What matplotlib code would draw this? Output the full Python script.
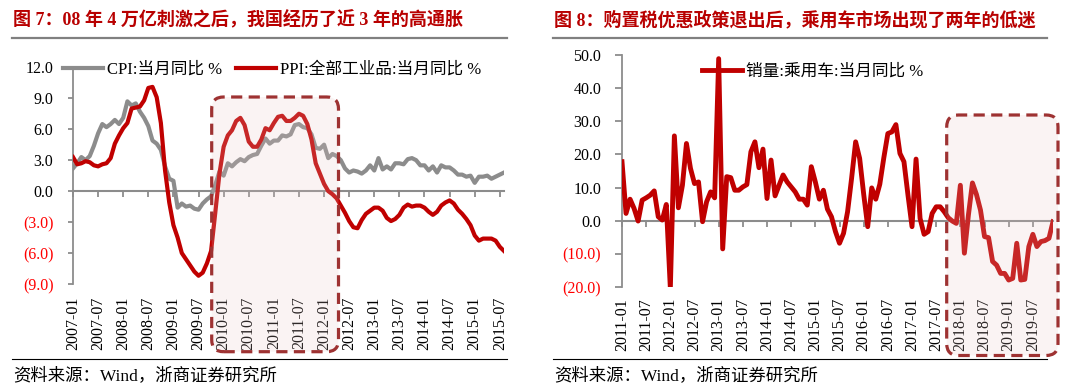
import matplotlib
matplotlib.use("Agg")
import matplotlib.pyplot as plt
import pandas as pd
from matplotlib.patches import FancyBboxPatch
from matplotlib.lines import Line2D

plt.rcParams['font.family'] = ['Liberation Serif', 'Noto Sans CJK SC', 'DejaVu Sans']

W, H = 1080, 392
RED = '#C00000'
GREY = '#8C8C8C'
AXIS = '#8C8C8C'
NEG = '#FF0000'
TITLE = '#B80000'
BOX_EDGE = '#9E3232'

# Left chart: CPI / PPI yoy %, monthly 2007-01 .. 2015-08
months_left = pd.period_range('2007-01', '2015-08', freq='M').strftime('%Y-%m').tolist()
cpi = [2.2, 2.7, 3.3, 3.0, 3.4, 4.4, 5.6, 6.5, 6.2, 6.5, 6.9, 6.5,
       7.1, 8.7, 8.3, 8.5, 7.7, 7.1, 6.3, 4.9, 4.6, 4.0, 2.4, 1.2,
       1.0, -1.6, -1.2, -1.5, -1.4, -1.7, -1.8, -1.2, -0.8, -0.5, 0.6, 1.9,
       1.5, 2.7, 2.4, 2.8, 3.1, 2.9, 3.3, 3.5, 3.6, 4.4, 5.1, 4.6,
       4.9, 4.9, 5.4, 5.3, 5.5, 6.4, 6.5, 6.2, 6.1, 5.5, 4.2, 4.1,
       4.5, 3.2, 3.6, 3.4, 3.0, 2.2, 1.8, 2.0, 1.9, 1.7, 2.0, 2.5,
       2.0, 3.2, 2.1, 2.4, 2.1, 2.7, 2.7, 2.6, 3.1, 3.2, 3.0, 2.5,
       2.5, 2.0, 2.4, 1.8, 2.5, 2.3, 2.3, 2.0, 1.6, 1.6, 1.4, 1.5,
       0.8, 1.4, 1.4, 1.5, 1.2, 1.4, 1.6, 1.8]
ppi = [3.3, 2.6, 2.7, 2.9, 2.8, 2.5, 2.4, 2.6, 2.7, 3.2, 4.6, 5.4,
       6.1, 6.6, 8.0, 8.1, 8.2, 8.8, 10.0, 10.1, 9.1, 6.6, 2.0, -1.1,
       -3.3, -4.5, -6.0, -6.6, -7.2, -7.8, -8.2, -7.9, -7.0, -5.8, -2.1, 1.7,
       4.3, 5.4, 5.9, 6.8, 7.1, 6.4, 4.8, 4.3, 4.3, 5.0, 6.1, 5.9,
       6.6, 7.2, 7.3, 6.8, 6.8, 7.1, 7.5, 7.3, 6.5, 5.0, 2.7, 1.7,
       0.7, 0.0, -0.3, -0.7, -1.4, -2.1, -2.9, -3.5, -3.6, -2.8, -2.2, -1.9,
       -1.6, -1.6, -1.9, -2.6, -2.9, -2.7, -2.3, -1.6, -1.3, -1.5, -1.4, -1.4,
       -1.6, -2.0, -2.3, -2.0, -1.4, -1.1, -0.9, -1.2, -1.8, -2.2, -2.7, -3.3,
       -4.3, -4.8, -4.6, -4.6, -4.6, -4.8, -5.4, -5.8]

# Right chart: passenger car sales yoy %, monthly 2011-01 .. 2019-12
months_right = pd.period_range('2011-01', '2019-12', freq='M').strftime('%Y-%m').tolist()
car_sales = [17.8, 2.2, 6.5, 3.7, -0.1, 6.2, 6.9, 7.7, 9.0, 1.2, 0.2, 4.9,
             -20.4, 25.6, 3.9, 10.7, 23.3, 15.8, 11.2, 11.7, -0.3, 5.7, 8.7, 6.9,
             48.9, -8.5, 13.3, 13.0, 9.2, 9.2, 10.2, 10.9, 20.8, 23.8, 16.0, 21.6,
             6.7, 18.3, 7.5, 10.7, 13.8, 11.7, 10.2, 8.7, 6.5, 6.5, 4.7, 16.3,
             11.7, 6.5, 9.2, 3.5, 1.2, -3.3, -6.8, -3.8, 2.7, 12.8, 23.8, 18.8,
             8.0, -1.8, 9.9, 6.5, 11.0, 19.0, 26.3, 26.8, 29.0, 20.3, 17.8, 7.7,
             -1.8, 18.6, 0.7, -4.1, -3.3, 2.2, 4.2, 4.2, 2.7, 0.9, -0.1, -0.8,
             10.7, -9.8, 1.7, 11.4, 7.9, 3.2, -4.8, -5.1, -12.3, -13.4, -15.9, -15.9,
             -17.9, -17.4, -6.8, -17.9, -17.7, -7.8, -4.1, -7.8, -6.3, -6.0, -5.3, -0.3]

yticks_left = [-9, -6, -3, 0, 3, 6, 9, 12]
yticks_right = [-20, -10, 0, 10, 20, 30, 40, 50]

title_left = '图 7：08 年 4 万亿刺激之后，我国经历了近 3 年的高通胀'
title_right = '图 8：购置税优惠政策退出后，乘用车市场出现了两年的低迷'
source = '资料来源：Wind，浙商证券研究所'


def fmt(v):
    return '(%.1f)' % abs(v) if v < 0 else '%.1f' % v


def style_axis(ax, months, yticks, ylen, ypad, xpad):
    n = len(months)
    ax.set_xlim(0, n - 1)
    ax.set_ylim(yticks[0], yticks[-1])
    for s in ['top', 'right', 'bottom']:
        ax.spines[s].set_visible(False)
    ax.spines['left'].set_color(AXIS)
    ax.spines['left'].set_linewidth(1.3)
    ax.set_yticks(yticks)
    ax.set_yticklabels([fmt(v) for v in yticks], fontsize=11.5)
    for lab, v in zip(ax.get_yticklabels(), yticks):
        lab.set_color(NEG if v < 0 else 'black')
    ax.tick_params(axis='y', direction='out', length=ylen, width=1.3, color=AXIS, pad=ypad)
    pos = list(range(0, n, 6))
    ax.set_xticks(pos)
    ax.set_xticklabels([months[i] for i in pos], rotation=90, fontsize=11.5)
    ax.tick_params(axis='x', length=0, pad=xpad)
    # zero line with tick marks
    zero = ax.secondary_xaxis(0, functions=(lambda x: x, lambda x: x), transform=ax.transData)
    zero.set_xticks(pos)
    zero.tick_params(axis='x', direction='out', length=4, width=1.3, color=AXIS,
                     labelbottom=False, labeltop=False)
    for s in zero.spines.values():
        s.set_color(AXIS)
        s.set_linewidth(1.5)
    ax.patch.set_alpha(0)


def highlight(fig, left, right, top, bottom):
    x0, x1 = left / W, right / W
    y0, y1 = 1 - bottom / H, 1 - top / H
    box = FancyBboxPatch((x0, y0), x1 - x0, y1 - y0,
                         boxstyle='round,pad=0,rounding_size=0.011', mutation_aspect=W / H,
                         transform=fig.transFigure, facecolor=(0.90, 0.78, 0.78, 0.2),
                         edgecolor=BOX_EDGE, linewidth=2.3, linestyle=(0, (3.5, 2)), zorder=10)
    fig.add_artist(box)


fig = plt.figure(figsize=(W / 100, H / 100), dpi=100)

# ---- left chart
ax1 = fig.add_axes([73 / W, 1 - 284 / H, (504 - 73) / W, (284 - 67.3) / H])
x1 = range(len(months_left))
l_cpi, = ax1.plot(x1, cpi, color=GREY, lw=3, solid_joinstyle='round', zorder=3)
l_ppi, = ax1.plot(x1, ppi, color=RED, lw=3, solid_joinstyle='round', zorder=4)
style_axis(ax1, months_left, yticks_left, ylen=3.6, ypad=10.5, xpad=9)
ax1.legend([l_cpi, l_ppi], ['CPI:当月同比 %', 'PPI:全部工业品:当月同比 %'],
           loc='center left', bbox_to_anchor=(63 / W, 1 - 70 / H), bbox_transform=fig.transFigure,
           ncol=2, frameon=False, fontsize=12, handlelength=2.4, handletextpad=0.25,
           columnspacing=0.8, borderpad=0, borderaxespad=0)

# ---- right chart
ax2 = fig.add_axes([622 / W, 1 - 287 / H, (1053 - 622) / W, (287 - 55) / H])
x2 = range(len(months_right))
l_car, = ax2.plot(x2, car_sales, color=RED, lw=3.5, solid_joinstyle='round', zorder=3)
style_axis(ax2, months_right, yticks_right, ylen=5, ypad=10, xpad=8)
ax2.legend([l_car], ['销量:乘用车:当月同比 %'],
           loc='center left', bbox_to_anchor=(702 / W, 1 - 72 / H), bbox_transform=fig.transFigure,
           frameon=False, fontsize=12, handlelength=2.4, handletextpad=0.25,
           borderpad=0, borderaxespad=0)

# ---- titles, rules, sources
for xl, xr, title in [(12, 507, title_left), (553, 1047, title_right)]:
    fig.text((xl + 1) / W, 1 - 20 / H, title, fontsize=13, fontweight='bold', color=TITLE,
             ha='left', va='center')
    fig.add_artist(Line2D([xl / W, xr / W], [1 - 37.7 / H] * 2, color='#808080', lw=1.6))
    fig.add_artist(Line2D([xl / W, xr / W], [1 - 359.3 / H] * 2, color='black', lw=0.8))
    fig.text((xl + 1) / W, 1 - 376 / H, source, fontsize=12.5, color='black', ha='left', va='center')

highlight(fig, 211.7, 338.5, 97, 351.7)
highlight(fig, 946.7, 1058, 115, 355.5)

fig.savefig('out.png', dpi=100)
